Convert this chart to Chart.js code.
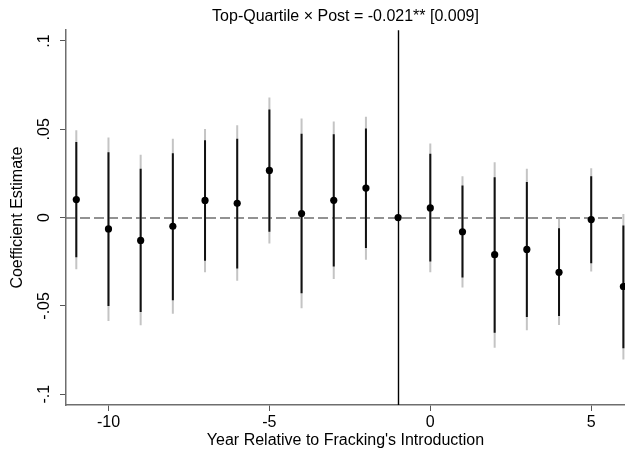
<!DOCTYPE html>
<html>
<head>
<meta charset="utf-8">
<script src="https://cdn.jsdelivr.net/npm/chart.js@4.4.1/dist/chart.umd.min.js"></script>
<style>
  html, body { margin: 0; padding: 0; background: #ffffff; }
  #wrap { width: 625px; height: 452px; }
</style>
</head>
<body>
<div id="wrap"><canvas id="c" width="625" height="452"></canvas></div>
<script>
// ---- data ----
const years    = [-11, -10, -9, -8, -7, -6, -5, -4, -3, -2, -1, 0, 1, 2, 3, 4, 5, 6];
const coef     = [0.0102, -0.0064, -0.0129, -0.0049, 0.0097, 0.0081, 0.0267, 0.0023, 0.0098, 0.0167, 0.0, 0.0055, -0.008, -0.021, -0.018, -0.031, -0.0011, -0.039];
// inner (black) interval
const innerLow  = [-0.0225, -0.050, -0.0535, -0.0468, -0.0244, -0.0288, -0.008, -0.0428, -0.0277, -0.0172, null, -0.0248, -0.0339, -0.0652, -0.0563, -0.0557, -0.0259, -0.074];
const innerHigh = [0.0428, 0.037, 0.0277, 0.0365, 0.0438, 0.0447, 0.0612, 0.0475, 0.0472, 0.0505, null, 0.0362, 0.0182, 0.0229, 0.0201, -0.0061, 0.0234, -0.0045];
// outer (grey) interval
const outerLow  = [-0.0292, -0.0586, -0.061, -0.0545, -0.031, -0.0358, -0.0146, -0.0513, -0.0348, -0.0239, null, -0.031, -0.0396, -0.0737, -0.0638, -0.0608, -0.0305, -0.0803];
const outerHigh = [0.0495, 0.0453, 0.0356, 0.0447, 0.0502, 0.0523, 0.068, 0.0561, 0.0544, 0.0571, null, 0.0419, 0.0234, 0.0314, 0.0277, -0.0007, 0.028, 0.0021];
const xTicks = [-10, -5, 0, 5];
const yTicks = [-0.1, -0.05, 0, 0.05, 0.1];
const yTickLabels = ["-.1", "-.05", "0", ".05", ".1"];
const refYear = -1;      // vertical reference line
const refCoef = 0;       // horizontal dashed reference line
const titleText = "Top-Quartile \u00d7 Post = -0.021** [0.009]";
const xTitle = "Year Relative to Fracking's Introduction";
const yTitle = "Coefficient Estimate";

// ---- build datasets ----
function intervals(lo, hi) {
  const out = [];
  years.forEach((yr, i) => {
    if (lo[i] !== null && hi[i] !== null) out.push({ x: yr, y: [lo[i], hi[i]] });
  });
  return out;
}
const points = years.map((yr, i) => ({ x: yr, y: coef[i] }));

const refLines = {
  id: 'refLines',
  beforeDatasetsDraw(chart) {
    const { ctx, chartArea, scales } = chart;
    const y0 = Math.round(scales.y.getPixelForValue(refCoef));
    ctx.save();
    ctx.strokeStyle = '#6f6f6f';
    ctx.lineWidth = 1.6;
    ctx.setLineDash([10, 4]);
    ctx.beginPath();
    ctx.moveTo(chartArea.left, y0);
    ctx.lineTo(chartArea.right - 3, y0);
    ctx.stroke();
    ctx.setLineDash([]);
    const x1 = Math.round(scales.x.getPixelForValue(refYear)) + 0.5;
    ctx.strokeStyle = '#000000';
    ctx.lineWidth = 1.4;
    ctx.beginPath();
    ctx.moveTo(x1, chartArea.top);
    ctx.lineTo(x1, chartArea.bottom);
    ctx.stroke();
    ctx.restore();
  }
};

const FONT = 'Liberation Sans, Arial, sans-serif';

new Chart(document.getElementById('c'), {
  type: 'bar',
  data: {
    datasets: [
      {
        type: 'scatter',
        label: 'Estimate',
        data: points,
        backgroundColor: '#000000',
        borderColor: '#000000',
        pointRadius: 3.6,
        pointHoverRadius: 3.6,
        borderWidth: 0,
        order: 0
      },
      {
        label: 'Inner interval',
        data: intervals(innerLow, innerHigh),
        backgroundColor: '#111111',
        borderWidth: 0,
        barThickness: 2,
        inflateAmount: 0,
        grouped: false,
        order: 1
      },
      {
        label: 'Outer interval',
        data: intervals(outerLow, outerHigh),
        backgroundColor: '#c4c4c4',
        borderWidth: 0,
        barThickness: 2,
        inflateAmount: 0,
        grouped: false,
        order: 2
      }
    ]
  },
  options: {
    responsive: false,
    animation: false,
    devicePixelRatio: 1,
    layout: { autoPadding: false, padding: { left: 0, right: 0, top: 0, bottom: 0 } },
    plugins: {
      legend: { display: false },
      tooltip: { enabled: false },
      title: {
        display: true,
        text: titleText,
        fullSize: false,
        color: '#000000',
        font: { family: FONT, size: 16, weight: 'normal' },
        padding: { top: 7, bottom: 4 }
      }
    },
    scales: {
      x: {
        type: 'linear',
        offset: false,
        min: -11.32,
        max: 6.05,
        afterBuildTicks: (s) => { s.ticks = xTicks.map(v => ({ value: v })); },
        afterFit: (s) => { s.height = 47; },
        grid: { display: true, offset: false, drawOnChartArea: false, drawTicks: true, tickLength: 6, tickColor: '#555555', lineWidth: 1 },
        border: { display: true, color: '#6e6e6e', width: 1.5 },
        ticks: {
          color: '#000000',
          padding: 2,
          maxRotation: 0,
          font: { family: FONT, size: 16 },
          callback: (v) => String(v)
        },
        title: {
          display: true,
          text: xTitle,
          color: '#000000',
          font: { family: FONT, size: 16 },
          padding: { top: 0, bottom: 2 }
        }
      },
      y: {
        type: 'linear',
        min: -0.1061,
        max: 0.1061,
        afterBuildTicks: (s) => { s.ticks = yTicks.map(v => ({ value: v })); },
        afterFit: (s) => { s.width = 66; },
        grid: { display: true, offset: false, drawOnChartArea: false, drawTicks: true, tickLength: 6, tickColor: '#555555', lineWidth: 1 },
        border: { display: true, color: '#6e6e6e', width: 1.5 },
        ticks: {
          color: '#000000',
          padding: 2,
          minRotation: 90,
          maxRotation: 90,
          crossAlign: 'center',
          font: { family: FONT, size: 16 },
          callback: (v) => {
            const i = yTicks.findIndex(t => Math.abs(t - v) < 1e-9);
            return i >= 0 ? yTickLabels[i] : '';
          }
        },
        title: {
          display: true,
          text: yTitle,
          color: '#000000',
          font: { family: FONT, size: 16 },
          padding: { top: 8, bottom: 0 }
        }
      }
    }
  },
  plugins: [refLines]
});
</script>
</body>
</html>
